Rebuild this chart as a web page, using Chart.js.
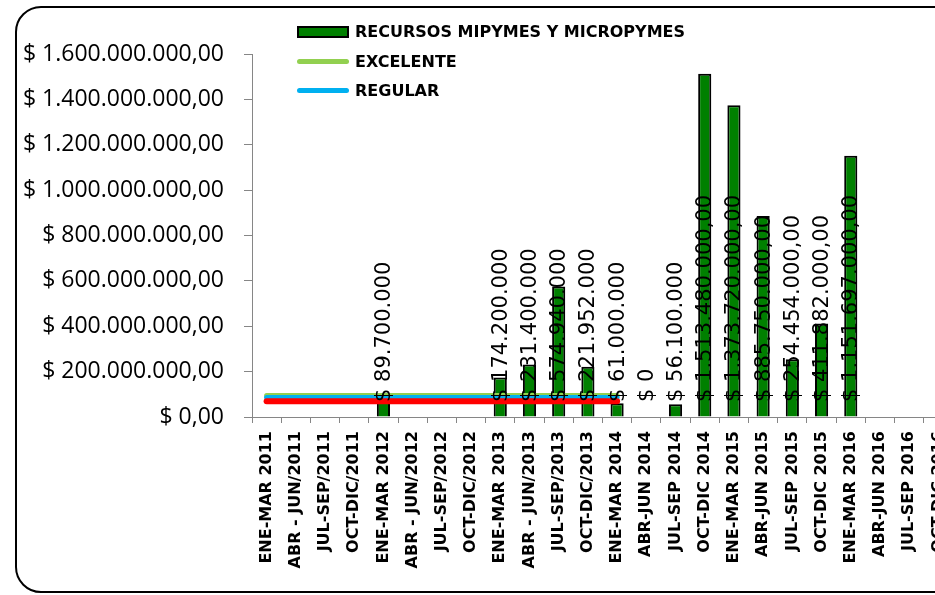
<!DOCTYPE html>
<html>
<head>
<meta charset="utf-8">
<script src="https://cdn.jsdelivr.net/npm/chart.js@4.4.1/dist/chart.umd.min.js"></script>
<style>
	html, body { margin: 0; padding: 0; background: #fff; width: 935px; height: 595px; overflow: hidden; }
	#marco { position: absolute; left: 15px; top: 6px; width: 1020px; height: 583px; border: 2px solid #000; border-radius: 26px; }
	#grafico { position: absolute; left: 0; top: 0; }
	#leyenda { position: absolute; left: 297px; top: 17px; font: bold 16px "DejaVu Sans", sans-serif; color: #000; }
	#leyenda div { height: 29.5px; display: flex; align-items: center; white-space: nowrap; }
	#leyenda span { display: inline-block; width: 52px; margin-right: 6px; }
	.caja { height: 8px; background: #008000; border: 2px solid #000; box-sizing: content-box; width: 48px !important; }
	.linea { height: 5px; border-radius: 3px; }
</style>
</head>
<body>
<div id="marco"></div>
<canvas id="grafico" width="1000" height="595"></canvas>
<div id="leyenda">
	<div><span class="caja"></span>RECURSOS MIPYMES Y MICROPYMES</div>
	<div><span class="linea" style="background:#92D050"></span>EXCELENTE</div>
	<div><span class="linea" style="background:#00B0F0"></span>REGULAR</div>
</div>
<script>
const categorias = [
	"ENE-MAR 2011", "ABR - JUN/2011", "JUL-SEP/2011", "OCT-DIC/2011",
	"ENE-MAR 2012", "ABR - JUN/2012", "JUL-SEP/2012", "OCT-DIC/2012",
	"ENE-MAR 2013", "ABR - JUN/2013", "JUL-SEP/2013", "OCT-DIC/2013",
	"ENE-MAR 2014", "ABR-JUN 2014", "JUL-SEP 2014", "OCT-DIC 2014",
	"ENE-MAR 2015", "ABR-JUN 2015", "JUL-SEP 2015", "OCT-DIC 2015",
	"ENE-MAR 2016", "ABR-JUN 2016", "JUL-SEP 2016", "OCT-DIC 2016",
];

const recursos = [
	null, null, null, null,
	89700000, null, null, null,
	174200000, 231400000, 574940000, 221952000,
	61000000, 0, 56100000, 1513480000,
	1373720000, 885750000, 254454000, 411882000,
	1151697000, null, null, null,
];

const etiquetas = [
	"", "", "", "",
	"$ 89.700.000", "", "", "",
	"$ 174.200.000", "$ 231.400.000", "$ 574.940.000", "$ 221.952.000",
	"$ 61.000.000", "$ 0", "$ 56.100.000", "$ 1.513.480.000,00",
	"$ 1.373.720.000,00", "$ 885.750.000,00", "$ 254.454.000,00", "$ 411.882.000,00",
	"$ 1.151.697.000,00", "", "", "",
];

const excelente = [
	95000000, 95000000, 95000000, 95000000, 95000000, 95000000, 95000000,
	95000000, 95000000, 95000000, 95000000, 95000000, 95000000,
];
const regular = [
	86000000, 86000000, 86000000, 86000000, 86000000, 86000000, 86000000,
	86000000, 86000000, 86000000, 86000000, 86000000, 86000000,
];
const malo = [
	69000000, 69000000, 69000000, 69000000, 69000000, 69000000, 69000000,
	69000000, 69000000, 69000000, 69000000, 69000000, 69000000,
];

const pesos = v =>
	"$ " + Math.round(v).toString().replace(/\B(?=(\d{3})+(?!\d))/g, ".") + ",00";

// etiquetas verticales sobre cada barra
const etiquetasBarras = {
	id: "etiquetasBarras",
	afterDatasetsDraw(chart) {
		const { ctx, scales: { x, y } } = chart;
		ctx.save();
		ctx.font = '21px "DejaVu Sans"';
		ctx.fillStyle = "#000";
		ctx.textAlign = "left";
		ctx.textBaseline = "middle";
		etiquetas.forEach((txt, i) => {
			if (!txt) return;
			ctx.save();
			ctx.translate(x.getPixelForValue(i) + 1, y.getPixelForValue(0) - 15);
			ctx.rotate(-Math.PI / 2);
			ctx.fillText(txt, 0, 0);
			ctx.restore();
		});
		ctx.restore();
	},
};

const linea = (label, data, color, ancho, orden) => ({
	type: "line",
	label,
	data,
	borderColor: color,
	backgroundColor: color,
	borderWidth: ancho,
	borderCapStyle: "round",
	pointRadius: 0,
	fill: false,
	order: orden,
});

new Chart(document.getElementById("grafico"), {
	type: "bar",
	plugins: [etiquetasBarras],
	data: {
		labels: categorias,
		datasets: [
			{
				label: "RECURSOS MIPYMES Y MICROPYMES",
				data: recursos,
				backgroundColor: "#008000",
				borderColor: "#000",
				borderWidth: 2,
				barPercentage: 0.45,
				categoryPercentage: 1,
				order: 4,
			},
			linea("EXCELENTE", excelente, "#92D050", 5, 3),
			linea("REGULAR", regular, "#00B0F0", 5, 2),
			linea("MALO", malo, "#FF0000", 6, 1),
		],
	},
	options: {
		responsive: false,
		animation: false,
		layout: { padding: { left: 0, top: 54, right: 47, bottom: 0 } },
		plugins: {
			legend: { display: false },
			tooltip: { enabled: false },
		},
		scales: {
			x: {
				afterFit(scale) { scale.height = 178; },
				border: { color: "#868686" },
				grid: { drawOnChartArea: false, tickLength: 6, color: "#868686" },
				ticks: {
					autoSkip: false,
					minRotation: 90,
					maxRotation: 90,
					padding: 8,
					color: "#000",
					font: { family: "DejaVu Sans", weight: "bold", size: 16 },
				},
			},
			y: {
				min: 0,
				max: 1600000000,
				afterFit(scale) { scale.width = 252; },
				border: { color: "#868686" },
				grid: { drawOnChartArea: false, tickLength: 8, color: "#868686" },
				ticks: {
					stepSize: 200000000,
					padding: 20,
					color: "#000",
					font: { family: "Open Sans", size: 23 },
					callback: v => pesos(v),
				},
			},
		},
	},
});
</script>
</body>
</html>
